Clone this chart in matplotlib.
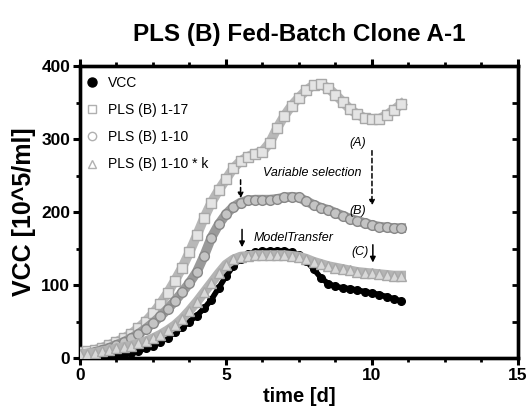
import numpy as np
import matplotlib
matplotlib.use('Agg')
import matplotlib.pyplot as plt
from matplotlib.lines import Line2D

plt.rcParams['font.family'] = ['Liberation Sans', 'DejaVu Sans']

# time axis shared by all series (days)
time_d = [0, 0.25, 0.5, 0.75, 1, 1.25, 1.5, 1.75, 2, 2.25, 2.5, 2.75, 3, 3.25, 3.5, 3.75,
          4, 4.25, 4.5, 4.75, 5, 5.25, 5.5, 5.75, 6, 6.25, 6.5, 6.75, 7, 7.25, 7.5, 7.75,
          8, 8.25, 8.5, 8.75, 9, 9.25, 9.5, 9.75, 10, 10.25, 10.5, 10.75, 11]

# VCC [10^5/ml]
vcc = [0, 0, 0, 1, 2, 3, 5, 7, 10, 13, 17, 22, 28, 35, 42, 50,
       58, 68, 80, 96, 112, 126, 136, 142, 145, 146, 147, 147, 147, 145, 141, 133,
       122, 110, 102, 98, 96, 95, 93, 91, 89, 87, 84, 81, 78]
pls_1_17 = [8, 9, 11, 14, 18, 22, 27, 33, 41, 50, 61, 74, 89, 106, 124, 145,
            168, 192, 213, 230, 245, 260, 270, 276, 280, 283, 295, 315, 332, 346, 357, 367,
            374, 375, 370, 361, 351, 341, 334, 329, 327, 328, 333, 340, 348]
pls_1_10 = [5, 6, 8, 11, 14, 18, 22, 27, 33, 40, 48, 57, 67, 78, 90, 103,
            118, 140, 165, 183, 197, 207, 213, 216, 217, 217, 217, 218, 220, 221, 220, 215,
            210, 206, 203, 199, 195, 191, 188, 185, 182, 180, 179, 178, 178]
pls_1_10_k = [5, 6, 7, 9, 11, 13, 15, 17, 20, 23, 27, 32, 38, 45, 54, 65,
              77, 90, 103, 116, 128, 135, 139, 140, 141, 141, 141, 141, 141, 140, 139, 136,
              132, 129, 126, 124, 122, 120, 118, 117, 116, 115, 114, 113, 113]

fig = plt.figure(figsize=(5.28, 4.11), dpi=100)
ax = fig.add_axes([0.1515, 0.129, 0.8295, 0.710])

# right-side inward ticks on a twin axis (drawn behind the data)
twin = ax.twinx()
twin.set_ylim(0, 400)
twin.set_yticks(np.arange(0, 401, 50))
twin.tick_params(axis='y', direction='in', length=4, width=2, labelright=False)
for sp in twin.spines.values():
    sp.set_linewidth(2.4)
ax.set_zorder(twin.get_zorder() + 1)
ax.patch.set_visible(False)

# black VCC band
ax.plot(time_d, vcc, color='black', lw=4, solid_capstyle='round', zorder=2)
ax.plot(time_d, vcc, 'o', ms=5.5, color='black', zorder=2)

# PLS 1-17 squares
ax.plot(time_d, pls_1_17, color='#b8b8b8', lw=7, zorder=3)
ax.plot(time_d, pls_1_17, 's', ms=7, mfc='#e4e4e4', mec='#a8a8a8', mew=1, zorder=3)

# PLS 1-10 circles
ax.plot(time_d, pls_1_10, color='#9a9a9a', lw=7, zorder=4)
ax.plot(time_d, pls_1_10, 'o', ms=7, mfc='#c4c4c4', mec='#888888', mew=1, zorder=4)

# PLS 1-10 * k triangles
ax.plot(time_d, pls_1_10_k, color='#b4b4b4', lw=7, zorder=5)
ax.plot(time_d, pls_1_10_k, '^', ms=7, mfc='#d8d8d8', mec='#a8a8a8', mew=1, zorder=5)

ax.set_xlim(0, 15)
ax.set_ylim(0, 400)
ax.set_xticks([0, 5, 10, 15])
ax.set_yticks([0, 100, 200, 300, 400])
ax.set_xticks(np.arange(0, 15.01, 1.25), minor=True)
ax.set_yticks(np.arange(0, 401, 50), minor=True)
ax.tick_params(which='major', length=5, width=2.2, labelsize=12.5, pad=2)
ax.tick_params(which='minor', length=3, width=2)
ax.tick_params(axis='x', which='both', top=True)
for lab in ax.get_xticklabels() + ax.get_yticklabels():
    lab.set_fontweight('bold')
for sp in ax.spines.values():
    sp.set_linewidth(2.4)

ax.set_xlabel('time [d]', fontsize=14.5, fontweight='bold', labelpad=3)
ax.set_ylabel('VCC [10^5/ml]', fontsize=18, fontweight='bold', labelpad=4)
fig.suptitle('PLS (B) Fed-Batch Clone A-1', fontsize=17.5, fontweight='bold',
             x=0.566, y=0.945)

handles = [
    Line2D([], [], ls='none', marker='o', ms=6.5, color='black'),
    Line2D([], [], ls='none', marker='s', ms=6, mfc='white', mec='#b0b0b0', mew=1),
    Line2D([], [], ls='none', marker='o', ms=6, mfc='white', mec='#b0b0b0', mew=1),
    Line2D([], [], ls='none', marker='^', ms=6, mfc='white', mec='#b0b0b0', mew=1),
]
labels = ['VCC', 'PLS (B) 1-17', 'PLS (B) 1-10', 'PLS (B) 1-10 * k']
ax.legend(handles, labels, loc='upper left', frameon=False, fontsize=10,
          labelspacing=0.95, handletextpad=0.6, handlelength=1.0,
          borderaxespad=0.3, bbox_to_anchor=(-0.01, 1.0))

# annotations
ax.text(9.52, 295, '(A)', style='italic', fontsize=9, ha='center', va='center')
ax.annotate('', xy=(10.0, 205), xytext=(10.0, 288),
            arrowprops=dict(arrowstyle='-|>', linestyle=(0, (3, 2)), color='black',
                            lw=1.1, mutation_scale=8))
ax.text(7.95, 253, 'Variable selection', style='italic', fontsize=9, ha='center', va='center')
ax.annotate('', xy=(5.5, 215), xytext=(5.5, 248),
            arrowprops=dict(arrowstyle='-|>', linestyle=(0, (3, 2)), color='black',
                            lw=1.1, mutation_scale=8))
ax.text(9.52, 201, '(B)', style='italic', fontsize=9, ha='center', va='center', zorder=6)
ax.text(7.3, 165, 'ModelTransfer', style='italic', fontsize=9, ha='center', va='center')
ax.annotate('', xy=(5.55, 148), xytext=(5.55, 180),
            arrowprops=dict(arrowstyle='-|>', color='black', lw=1.1, mutation_scale=8))
ax.text(9.6, 145, '(C)', style='italic', fontsize=9, ha='center', va='center')
ax.annotate('', xy=(10.03, 127), xytext=(10.03, 159),
            arrowprops=dict(arrowstyle='-|>', color='black', lw=1.1, mutation_scale=8))

fig.savefig('out.png', dpi=100)
